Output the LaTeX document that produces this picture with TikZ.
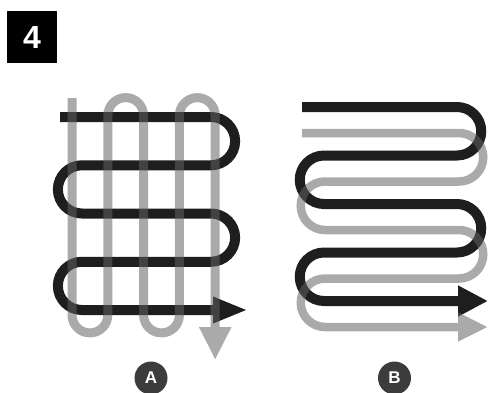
\documentclass[tikz,border=0pt]{standalone}
\usepackage{fontspec}
\setmainfont{Liberation Sans}
\usetikzlibrary{arrows.meta}
\definecolor{inkdark}{RGB}{30,30,30}
\definecolor{inkgray}{RGB}{98,98,98}
\definecolor{badge}{RGB}{60,60,60}
\tikzset{
  darkline/.style={draw=inkdark, line width=10pt},
  grayline/.style={draw=inkgray, line width=9pt},
  graygroup/.style={transparency group, opacity=0.54},
  badgecircle/.style={circle, fill=badge, minimum size=33pt, inner sep=0pt, text=white, font=\bfseries\fontsize{17}{17}\selectfont},
}
\begin{document}
\begin{tikzpicture}[x=1pt, y=-1pt]
\useasboundingbox (0,0) rectangle (489,392);
% number box
\node[fill=black, minimum width=50pt, minimum height=52pt, inner sep=0pt, text=white, font=\bfseries\fontsize{32}{32}\selectfont] (num) at (32,37) {4};

% ---------- Diagram A ----------
% black serpentine
\draw[darkline, -{Triangle[length=35pt, width=24pt]}]
  (60,117) -- (211,117) arc[start angle=270, end angle=450, radius=24.125]
  -- (82,165.25) arc[start angle=270, end angle=90, radius=24.125]
  -- (211,213.5) arc[start angle=270, end angle=450, radius=24.125]
  -- (82,261.75) arc[start angle=270, end angle=90, radius=24.125]
  -- (248,310);
% gray serpentine (vertical)
\begin{scope}[graygroup]
\draw[grayline, -{Triangle[length=33pt, width=30pt]}]
  (72,98) -- (72,315) arc[start angle=180, end angle=0, radius=17.9]
  -- (107.8,115.5) arc[start angle=180, end angle=360, radius=17.9]
  -- (143.6,315) arc[start angle=180, end angle=0, radius=17.9]
  -- (179.4,115.5) arc[start angle=180, end angle=360, radius=17.9]
  -- (215.2,360);
\end{scope}

% ---------- Diagram B ----------
\draw[darkline, -{Triangle[length=30pt, width=29pt]}]
  (302,107) -- (457,107) arc[start angle=270, end angle=450, radius=24.25]
  -- (324,155.5) arc[start angle=270, end angle=90, radius=24.25]
  -- (457,204) arc[start angle=270, end angle=450, radius=24.25]
  -- (324,252.5) arc[start angle=270, end angle=90, radius=24.25]
  -- (488,301);
\begin{scope}[graygroup]
\draw[grayline, line width=8.5pt, -{Triangle[length=30pt, width=27pt]}]
  (302,133) -- (459,133) arc[start angle=270, end angle=450, radius=24.25]
  -- (325,181.5) arc[start angle=270, end angle=90, radius=24.25]
  -- (459,230) arc[start angle=270, end angle=450, radius=24.25]
  -- (325,278.5) arc[start angle=270, end angle=90, radius=24.25]
  -- (488,327);
\end{scope}

% labels
\node[badgecircle] (la) at (151,378) {A};
\node[badgecircle] (lb) at (394.5,378) {B};
\end{tikzpicture}
\end{document}
